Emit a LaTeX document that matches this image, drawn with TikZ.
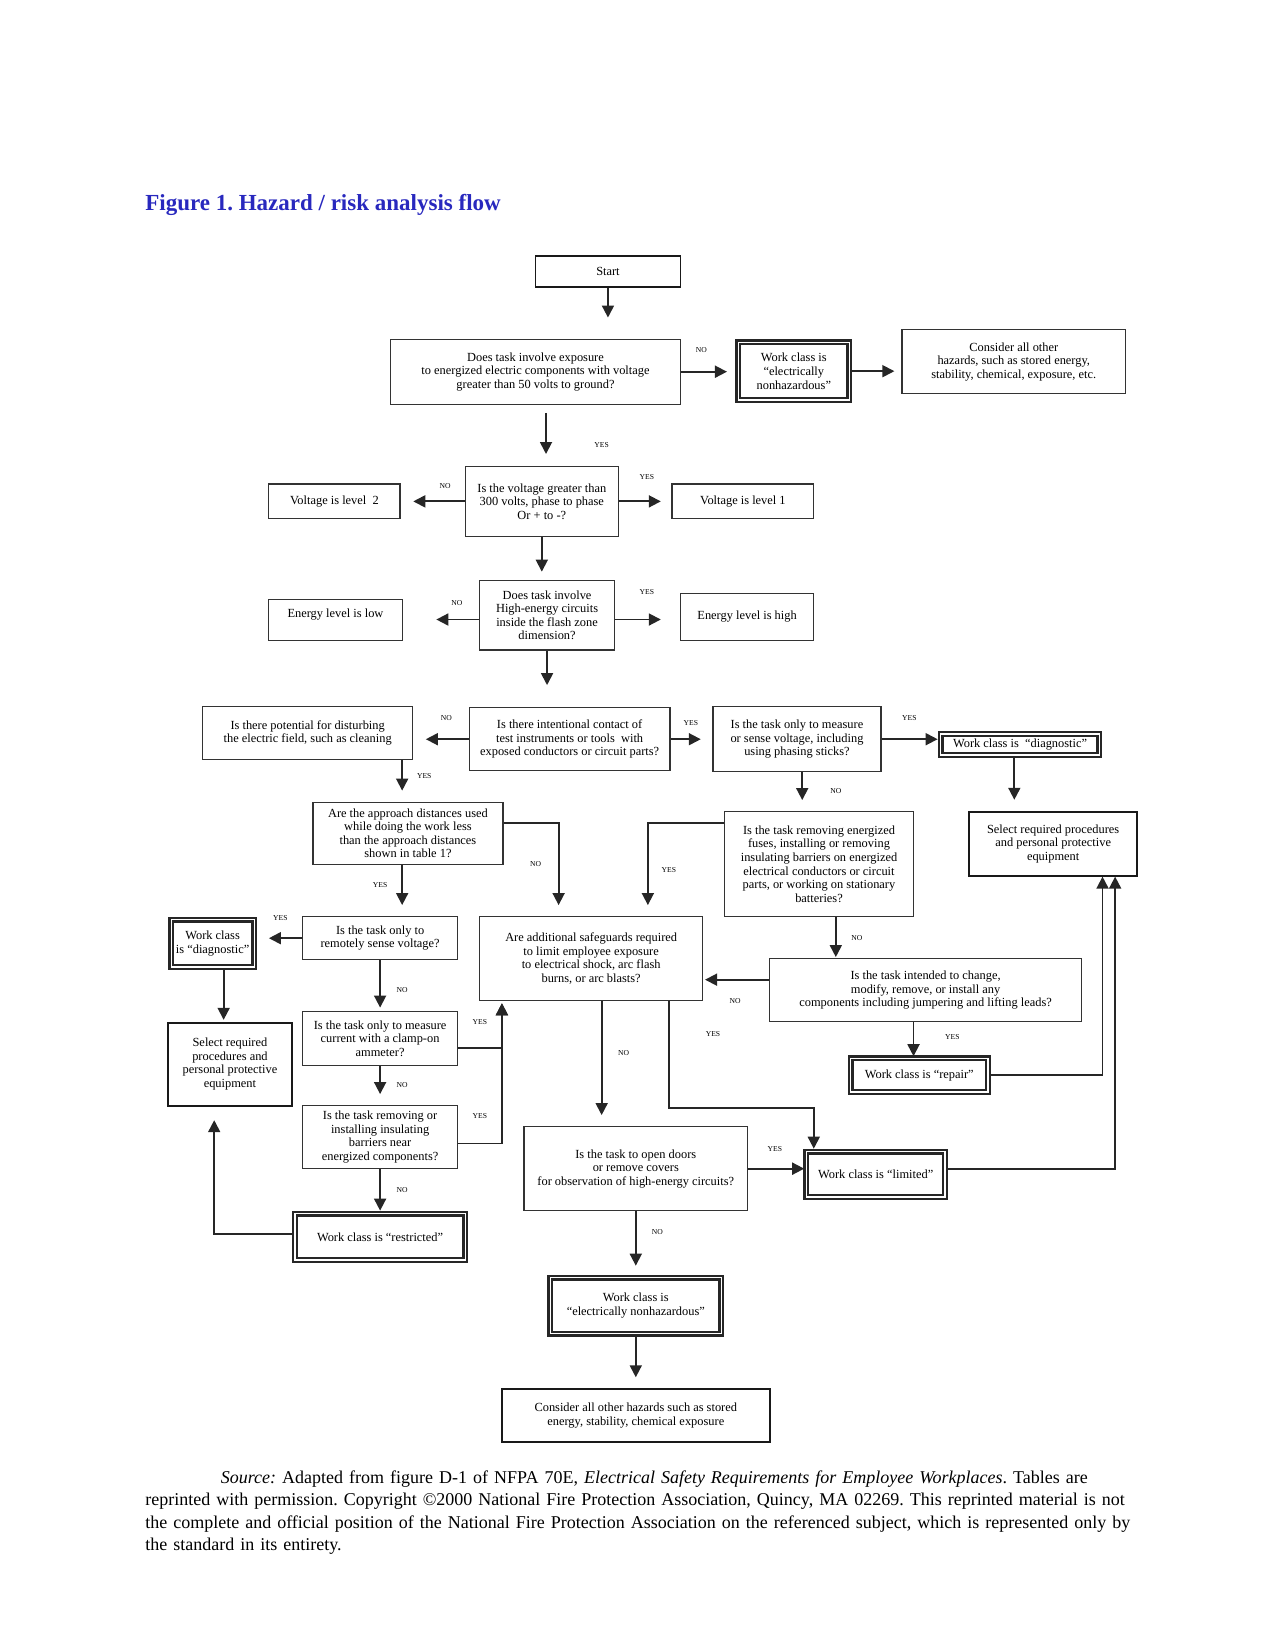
\documentclass[tikz,border=0pt]{standalone}
\usepackage{fontspec}
\setmainfont{Liberation Serif}
\usetikzlibrary{arrows.meta}
\frenchspacing

\newcommand\unitpx{0.525pt}
\newcommand\boxfont{\fontsize{6.2}{6.8}\selectfont}
\newcommand\yesnofont{\fontsize{3.8}{4}\selectfont}
\definecolor{titleblue}{RGB}{40,40,190}

\tikzset{
  box/.style={draw=black!80, line width=0.6pt, fill=white, align=center, font=\boxfont, inner sep=1pt},
  darkbox/.style={box, draw=black!90, line width=0.9pt},
  wcbox/.style={box, draw=black!85, line width=1.2pt, double=white, double distance=0.6pt},
  boxsize/.style 2 args={minimum width=#1*0.525pt, minimum height=#2*0.525pt},
  conn/.style={draw=black!85, line width=0.9pt, -{Triangle[length=6pt,width=6pt]}, shorten >=5.5pt},
  yesno/.style={font=\yesnofont, inner sep=0pt},
}

\begin{document}
\begin{tikzpicture}[x=0.525pt,y=-0.525pt]
	\useasboundingbox (0,0) rectangle (1214.3,1571.4);

	\node[anchor=west, inner sep=0pt, font=\fontsize{11.5}{13}\selectfont\bfseries, text=titleblue] (title) at (138,195) {Figure 1. Hazard / risk analysis flow};

	% top of the flow
	\node[darkbox, boxsize={138}{30}] (start) at (579,258.5) {Start};
	\node[box, boxsize={276}{62}] (q1) at (510,354) {Does task involve exposure\\to energized electric components with voltage\\greater than 50 volts to ground?};
	\node[wcbox, boxsize={106}{55}] (wc1) at (756,353.5) {Work class is\\“electrically\\nonhazardous”};
	\node[box, boxsize={213}{61}] (con1) at (965.5,344.5) {Consider all other\\hazards, such as stored energy,\\stability, chemical, exposure, etc.};
	\node[box, boxsize={146}{67}] (q2) at (516,477.5) {Is the voltage greater than\\300 volts, phase to phase\\Or + to -?};
	\node[box, boxsize={125}{33}] (v2) at (318.5,477.5) {Voltage is level\ \ 2};
	\node[box, boxsize={135}{33}] (v1) at (707.5,477.5) {Voltage is level 1};
	\node[box, boxsize={128}{66}] (q3) at (521,586) {Does task involve\\High-energy circuits\\inside the flash zone\\dimension?};
	\node[box, boxsize={127}{39}] (elow) at (319.5,590.5) {Energy level is low\\\mbox{}};
	\node[box, boxsize={127}{45}] (ehigh) at (711.5,587.5) {Energy level is high};

	% middle row
	\node[box, boxsize={191}{60}] (q4) at (542.5,704) {Is there intentional contact of\\test instruments or tools\ \ with\\exposed conductors or circuit parts?};
	\node[box, boxsize={200}{50}] (q5) at (293,698) {Is there potential for disturbing\\the electric field, such as cleaning};
	\node[box, boxsize={160}{62}] (q6) at (759,704) {Is the task only to measure\\or sense voltage, including\\using phasing sticks?};
	\node[wcbox, boxsize={151}{20}] (wcd1) at (971.5,709) {Work class is\ \ “diagnostic”};
	\node[darkbox, boxsize={160}{61}] (sel1) at (1003,803.5) {Select required procedures\\and personal protective\\equipment};
	\node[box, boxsize={180}{100}] (q7) at (780,823) {Is the task removing energized\\fuses, installing or removing\\insulating barriers on energized\\electrical conductors or circuit\\parts, or working on stationary\\batteries?};
	\node[box, boxsize={181}{59}] (q8) at (388.5,793.5) {Are the approach distances used\\while doing the work less\\than the approach distances\\shown in table 1?};
	\node[box, boxsize={212}{80}] (q9) at (563,913) {Are additional safeguards required\\to limit employee exposure\\to electrical shock, arc flash\\burns, or arc blasts?};

	% left column
	\node[box, boxsize={148}{41}] (q10) at (362,893.5) {Is the task only to\\remotely sense voltage?};
	\node[wcbox, boxsize={79}{45}] (wcd2) at (202.5,898.5) {Work class\\is “diagnostic”};
	\node[darkbox, boxsize={118}{79}] (sel2) at (219,1013.5) {Select required\\procedures and\\personal protective\\equipment};
	\node[box, boxsize={148}{52}] (q11) at (362,989) {Is the task only to measure\\current with a clamp-on\\ammeter?};
	\node[box, boxsize={148}{60}] (q12) at (362,1083) {Is the task removing or\\installing insulating\\barriers near\\energized components?};
	\node[wcbox, boxsize={162}{44}] (wcr) at (362,1178) {Work class is “restricted”};

	% right and bottom
	\node[box, boxsize={297}{60}] (q14) at (881.5,943) {Is the task intended to change,\\modify, remove, or install any\\components including jumpering and lifting leads?};
	\node[wcbox, boxsize={131}{32}] (wcrep) at (875.5,1024) {Work class is “repair”};
	\node[box, boxsize={213}{80}] (q13) at (605.5,1113) {Is the task to open doors\\or remove covers\\for observation of high-energy circuits?};
	\node[wcbox, boxsize={132}{43}] (wcl) at (834,1118.5) {Work class is “limited”};
	\node[wcbox, boxsize={163}{53}] (wcn2) at (605.5,1243.5) {Work class is\\“electrically nonhazardous”};
	\node[darkbox, boxsize={255}{50}] (con2) at (605.5,1348) {Consider all other hazards such as stored\\energy, stability, chemical exposure};

	% connectors
	\draw[conn, shorten >=10.5pt] (start.south) -- (start.south |- q1.north);
	\draw[conn, shorten >=5pt] (q1.east) -- (q1.east -| wc1.west);
	\draw[conn, shorten >=3.5pt] (wc1.east) -- (wc1.east -| con1.west);
	\draw[conn, shorten <=4pt, shorten >=5.8pt] ([xshift=10*\unitpx]q1.south) -- ([xshift=10*\unitpx]q1.south |- q2.north);
	\draw[conn, shorten >=6.3pt] (q2.west) -- (q2.west -| v2.east);
	\draw[conn, shorten >=5.3pt] (q2.east) -- (q2.east -| v1.west);
	\draw[conn, shorten >=4.2pt] (q2.south) -- (q2.south |- q3.north);
	\draw[conn, shorten >=16.8pt] ([yshift=-4*\unitpx]q3.west) -- ([yshift=-4*\unitpx]q3.west -| elow.east);
	\draw[conn, shorten >=9.5pt] ([yshift=-4*\unitpx]q3.east) -- ([yshift=-4*\unitpx]q3.east -| ehigh.west);
	\draw[conn, shorten >=11pt] (q3.south) -- (q3.south |- q4.north);
	\draw[conn, shorten >=6.3pt] (q4.west) -- (q4.west -| q5.east);
	\draw[conn, shorten >=5.8pt] (q4.east) -- (q4.east -| q6.west);
	\draw[conn, shorten >=1pt] (q6.east) -- (q6.east -| wcd1.west);
	\draw[conn] ([xshift=-5.5*\unitpx]wcd1.south) -- ([xshift=-5.5*\unitpx]wcd1.south |- sel1.north);
	\draw[conn] ([xshift=5*\unitpx]q6.south) -- ([xshift=5*\unitpx]q6.south |- q7.north);
	\draw[conn] ([xshift=90*\unitpx]q5.south) -- ([xshift=90*\unitpx]q5.south |- q8.north);
	\draw[conn] ([yshift=-11*\unitpx]q7.north west) -| ([xshift=54*\unitpx]q9.north);
	\draw[conn] ([yshift=-20*\unitpx]q8.north east) -| ([xshift=-31*\unitpx]q9.north);
	\draw[conn] ([xshift=-5.5*\unitpx]q8.south) -- ([xshift=-5.5*\unitpx]q8.south |- q10.north);
	\draw[conn, shorten >=6.8pt] (q10.west) -- (q10.west -| wcd2.east);
	\draw[conn, shorten >=1pt] ([xshift=10.5*\unitpx]wcd2.south) -- ([xshift=10.5*\unitpx]wcd2.south |- sel2.north);
	\draw[conn, shorten >=1.5pt] (q10.south) -- (q10.south |- q11.north);
	\draw[conn, shorten >=1pt] ([yshift=-9*\unitpx]q11.east) -| ([xshift=-85*\unitpx]q9.south);
	\draw[conn, shorten >=1pt] ([yshift=-6*\unitpx]q12.east) -| ([xshift=-85*\unitpx]q9.south);
	\draw[conn] (q11.south) -- (q11.south |- q12.north);
	\draw[conn, shorten >=1pt] (q12.south) -- (q12.south |- wcr.north);
	\draw[conn, shorten >=6.8pt] ([yshift=3*\unitpx]wcr.west) -| ([xshift=-15*\unitpx]sel2.south);
	\draw[conn] ([xshift=10*\unitpx]q9.south) -- ([xshift=10*\unitpx]q9.south |- q13.north);
	\draw[conn, shorten >=1pt] ([xshift=74*\unitpx]q9.south) |- ([xshift=-59*\unitpx, yshift=41*\unitpx]wcl.north) -- ([xshift=-59*\unitpx]wcl.north);
	\draw[conn, shorten >=0.5pt] (q13.east) -- (q13.east -| wcl.west);
	\draw[conn, shorten >=0pt] ([yshift=5.5*\unitpx]wcl.east) -| ([xshift=59*\unitpx]sel1.south);
	\draw[conn, shorten >=1pt] ([yshift=10*\unitpx]q14.west) -- ([yshift=10*\unitpx]q14.west -| q9.east);
	\draw[conn, shorten >=0.5pt] ([xshift=16*\unitpx]q7.south) -- ([xshift=16*\unitpx]q7.south |- q14.north);
	\draw[conn, shorten >=0.5pt] ([xshift=-11.5*\unitpx]q14.south) -- ([xshift=-11.5*\unitpx]q14.south |- wcrep.north);
	\draw[conn, shorten >=0pt] (wcrep.east) -| ([xshift=47*\unitpx]sel1.south);
	\draw[conn] (q13.south) -- (q13.south |- wcn2.north);
	\draw[conn] (wcn2.south) -- (wcn2.south |- con2.north);

	% yes / no labels
	\node[yesno] (n1) at (668,333) {NO};
	\node[yesno] (y1) at (573,424) {YES};
	\node[yesno] (n2) at (424,463) {NO};
	\node[yesno] (y2) at (616,454) {YES};
	\node[yesno] (n3) at (435,574) {NO};
	\node[yesno] (y3) at (616,564) {YES};
	\node[yesno] (n4) at (425,684) {NO};
	\node[yesno] (y4) at (658,689) {YES};
	\node[yesno] (y5) at (866,684) {YES};
	\node[yesno] (n5) at (796,753) {NO};
	\node[yesno] (y6) at (404,739) {YES};
	\node[yesno] (y7) at (637,829) {YES};
	\node[yesno] (n6) at (510,823) {NO};
	\node[yesno] (y8) at (362,843) {YES};
	\node[yesno] (y9) at (267,874) {YES};
	\node[yesno] (n7) at (383,943) {NO};
	\node[yesno] (y10) at (457,973) {YES};
	\node[yesno] (n8) at (383,1033) {NO};
	\node[yesno] (y11) at (457,1063) {YES};
	\node[yesno] (n9) at (383,1133) {NO};
	\node[yesno] (n10) at (594,1003) {NO};
	\node[yesno] (y12) at (679,985) {YES};
	\node[yesno] (n11) at (816,893) {NO};
	\node[yesno] (n12) at (700,953) {NO};
	\node[yesno] (y13) at (907,988) {YES};
	\node[yesno] (y14) at (738,1094) {YES};
	\node[yesno] (n13) at (626,1173) {NO};

	% source note
	\node[anchor=north west, inner sep=0pt, text width=504pt, align=left, font=\fontsize{9}{11.3}\selectfont] (note) at (138,1400) {\hspace*{37.8pt}\textit{Source:} Adapted from figure D-1 of NFPA 70E, \textit{Electrical Safety Requirements for Employee Workplaces}. Tables are\\
	\makebox[504pt][s]{reprinted with permission. Copyright ©2000 National Fire Protection Association, Quincy, MA 02269. This reprinted material is not}\\
	\makebox[504pt][s]{the complete and official position of the National Fire Protection Association on the referenced subject, which is represented only by}\\
	the standard in its entirety.};
\end{tikzpicture}
\end{document}
